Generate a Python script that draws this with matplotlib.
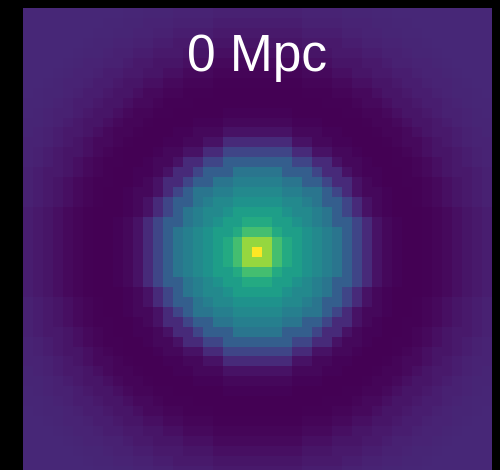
import numpy as np
import matplotlib.pyplot as plt

# radial profile of the normalised map, one value per integer radius (in cells)
radius_bins = np.arange(36)
profile = [1.00, 0.84, 0.70, 0.61, 0.56, 0.51, 0.47, 0.43, 0.39, 0.30,
           0.21, 0.12, 0.05, 0.02, 0.008, 0.002, 0.0, 0.004, 0.012, 0.025,
           0.04, 0.055, 0.068, 0.08, 0.09, 0.098, 0.104, 0.108, 0.11, 0.11,
           0.11, 0.11, 0.11, 0.11, 0.11, 0.11]

n_cells = 47
center_row, center_col = 24, 23
title = '0 Mpc'

# build the 2D map by looking up each cell's radius in the profile
rows, cols = np.indices((n_cells, n_cells))
dist = np.rint(np.hypot(rows - center_row, cols - center_col)).astype(int)
dist = np.clip(dist, 0, radius_bins[-1])
img = np.asarray(profile)[dist]

fig = plt.figure(figsize=(5.0, 4.7), dpi=100, facecolor='black')
ax = fig.add_axes([0.0454, -0.0121, 0.936, 0.9957])
ax.imshow(img, cmap='viridis', vmin=0, vmax=1, interpolation='nearest',
          aspect='auto')
ax.set_axis_off()

ax.text(0.5, 0.865, title, transform=ax.transAxes, ha='center',
        va='baseline', color='white', fontsize=37,
        family=['Liberation Sans', 'DejaVu Sans'])

fig.savefig('out.png', dpi=100, facecolor='black')
